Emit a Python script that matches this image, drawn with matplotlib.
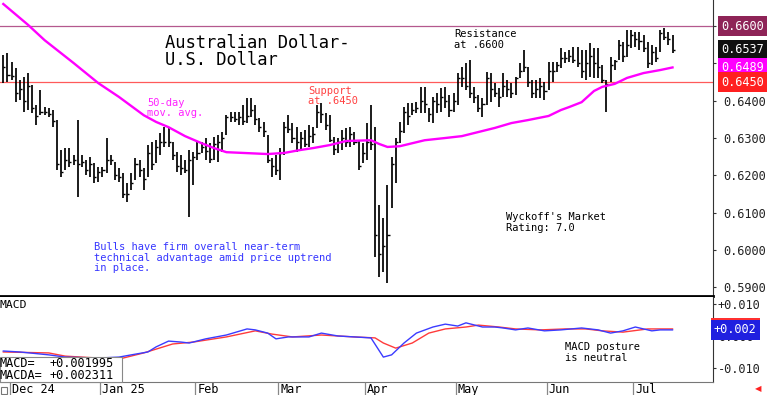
import matplotlib
matplotlib.use("Agg")
import matplotlib.pyplot as plt
from matplotlib.patches import Rectangle

# ---------------- data ----------------
highs = [
    0.6522, 0.6528, 0.6504, 0.6487, 0.6455, 0.6463, 0.6474, 0.6442, 0.6388, 0.6428,
    0.6383, 0.6380, 0.6375, 0.6348, 0.6268, 0.6273, 0.6273, 0.6254, 0.6348, 0.6254,
    0.6241, 0.6249, 0.6233, 0.6222, 0.6222, 0.6300, 0.6254, 0.6236, 0.6219, 0.6206,
    0.6179, 0.6206, 0.6246, 0.6241, 0.6219, 0.6281, 0.6289, 0.6294, 0.6313, 0.6329,
    0.6327, 0.6289, 0.6262, 0.6254, 0.6241, 0.6268, 0.6262, 0.6289, 0.6289, 0.6300,
    0.6286, 0.6303, 0.6308, 0.6316, 0.6361, 0.6370, 0.6370, 0.6370, 0.6388, 0.6407,
    0.6407, 0.6388, 0.6353, 0.6343, 0.6308, 0.6246, 0.6254, 0.6273, 0.6343, 0.6361,
    0.6340, 0.6329, 0.6316, 0.6321, 0.6335, 0.6329, 0.6388, 0.6394, 0.6367, 0.6361,
    0.6303, 0.6300, 0.6321, 0.6327, 0.6329, 0.6316, 0.6294, 0.6286, 0.6340, 0.6388,
    0.6329, 0.6120, 0.6085, 0.6174, 0.6249, 0.6300, 0.6343, 0.6383, 0.6394, 0.6394,
    0.6396, 0.6437, 0.6437, 0.6380, 0.6410, 0.6420, 0.6434, 0.6437, 0.6415, 0.6420,
    0.6474, 0.6490, 0.6501, 0.6509, 0.6437, 0.6415, 0.6407, 0.6477, 0.6474, 0.6447,
    0.6434, 0.6474, 0.6455, 0.6447, 0.6463, 0.6501, 0.6536, 0.6490, 0.6455, 0.6455,
    0.6461, 0.6450, 0.6504, 0.6504, 0.6504, 0.6541, 0.6530, 0.6536, 0.6544, 0.6544,
    0.6536, 0.6536, 0.6554, 0.6541, 0.6541, 0.6495, 0.6455, 0.6517, 0.6509, 0.6562,
    0.6557, 0.6589, 0.6589, 0.6584, 0.6584, 0.6576, 0.6557, 0.6549, 0.6544, 0.6589,
    0.6595, 0.6584, 0.6576,
]
lows = [
    0.6447, 0.6450, 0.6455, 0.6396, 0.6402, 0.6370, 0.6375, 0.6367, 0.6335, 0.6361,
    0.6361, 0.6356, 0.6329, 0.6214, 0.6195, 0.6214, 0.6222, 0.6227, 0.6142, 0.6222,
    0.6201, 0.6195, 0.6179, 0.6182, 0.6195, 0.6206, 0.6227, 0.6187, 0.6182, 0.6139,
    0.6128, 0.6160, 0.6187, 0.6195, 0.6160, 0.6195, 0.6214, 0.6233, 0.6254, 0.6276,
    0.6276, 0.6241, 0.6209, 0.6201, 0.6206, 0.6088, 0.6174, 0.6241, 0.6260, 0.6241,
    0.6233, 0.6241, 0.6236, 0.6262, 0.6308, 0.6343, 0.6343, 0.6335, 0.6335, 0.6340,
    0.6356, 0.6335, 0.6316, 0.6303, 0.6233, 0.6195, 0.6201, 0.6187, 0.6254, 0.6313,
    0.6286, 0.6262, 0.6268, 0.6276, 0.6276, 0.6286, 0.6327, 0.6340, 0.6321, 0.6289,
    0.6254, 0.6260, 0.6268, 0.6276, 0.6276, 0.6281, 0.6214, 0.6233, 0.6241, 0.6268,
    0.5981, 0.5927, 0.5941, 0.5911, 0.6112, 0.6179, 0.6286, 0.6313, 0.6335, 0.6361,
    0.6367, 0.6367, 0.6367, 0.6343, 0.6340, 0.6367, 0.6370, 0.6380, 0.6356, 0.6370,
    0.6388, 0.6437, 0.6428, 0.6407, 0.6394, 0.6370, 0.6356, 0.6388, 0.6396, 0.6410,
    0.6383, 0.6410, 0.6410, 0.6407, 0.6415, 0.6461, 0.6477, 0.6437, 0.6407, 0.6407,
    0.6407, 0.6402, 0.6428, 0.6450, 0.6477, 0.6487, 0.6501, 0.6504, 0.6501, 0.6490,
    0.6461, 0.6455, 0.6463, 0.6461, 0.6461, 0.6447, 0.6370, 0.6450, 0.6482, 0.6509,
    0.6504, 0.6517, 0.6541, 0.6544, 0.6536, 0.6530, 0.6487, 0.6495, 0.6504, 0.6530,
    0.6562, 0.6549, 0.6528,
]
closes = [
    0.6490, 0.6470, 0.6465, 0.6420, 0.6430, 0.6400, 0.6440, 0.6380, 0.6360, 0.6370,
    0.6370, 0.6365, 0.6345, 0.6230, 0.6210, 0.6240, 0.6235, 0.6240, 0.6230, 0.6235,
    0.6215, 0.6230, 0.6195, 0.6210, 0.6215, 0.6240, 0.6240, 0.6200, 0.6195, 0.6150,
    0.6150, 0.6180, 0.6230, 0.6215, 0.6190, 0.6260, 0.6230, 0.6275, 0.6290, 0.6290,
    0.6290, 0.6255, 0.6225, 0.6220, 0.6215, 0.6240, 0.6250, 0.6260, 0.6275, 0.6265,
    0.6245, 0.6285, 0.6290, 0.6300, 0.6355, 0.6355, 0.6350, 0.6355, 0.6345, 0.6360,
    0.6375, 0.6350, 0.6330, 0.6320, 0.6240, 0.6225, 0.6215, 0.6260, 0.6330, 0.6325,
    0.6300, 0.6290, 0.6300, 0.6285, 0.6305, 0.6310, 0.6370, 0.6365, 0.6335, 0.6295,
    0.6270, 0.6290, 0.6300, 0.6290, 0.6310, 0.6290, 0.6225, 0.6260, 0.6290, 0.6285,
    0.6040, 0.5990, 0.6010, 0.6040, 0.6230, 0.6290, 0.6320, 0.6370, 0.6360, 0.6375,
    0.6380, 0.6400, 0.6390, 0.6365, 0.6400, 0.6390, 0.6410, 0.6400, 0.6375, 0.6400,
    0.6460, 0.6460, 0.6440, 0.6420, 0.6410, 0.6380, 0.6390, 0.6460, 0.6430, 0.6420,
    0.6410, 0.6440, 0.6430, 0.6420, 0.6460, 0.6480, 0.6490, 0.6450, 0.6420, 0.6430,
    0.6440, 0.6425, 0.6480, 0.6480, 0.6495, 0.6515, 0.6515, 0.6520, 0.6510, 0.6500,
    0.6480, 0.6500, 0.6520, 0.6500, 0.6490, 0.6455, 0.6445, 0.6495, 0.6505, 0.6550,
    0.6520, 0.6550, 0.6575, 0.6565, 0.6560, 0.6540, 0.6500, 0.6530, 0.6515, 0.6580,
    0.6570, 0.6565, 0.6537,
]

# 50-day moving average, read at these bar numbers
ma_idx = [0, 6, 10, 17, 23, 28, 34, 37, 40, 44, 48, 51, 54, 58, 64, 68, 72, 75, 79,
          83, 89, 91, 93, 96, 99, 102, 107, 111, 115, 119, 123, 127, 132, 135, 137,
          140, 143, 145, 148, 151, 155, 159, 162]
ma_vals = [0.6659, 0.6603, 0.6562, 0.6501, 0.6447, 0.6410, 0.6361, 0.6343, 0.6329,
           0.6305, 0.6286, 0.6273, 0.6262, 0.6260, 0.6257, 0.6260, 0.6268, 0.6273,
           0.6281, 0.6292, 0.6294, 0.6284, 0.6276, 0.6278, 0.6286, 0.6294, 0.6300,
           0.6305, 0.6316, 0.6327, 0.6340, 0.6348, 0.6359, 0.6375, 0.6383, 0.6396,
           0.6426, 0.6437, 0.6445, 0.6461, 0.6474, 0.6482, 0.6489]

# MACD (blue) and MACD average (red), read at these bar numbers
macd_idx = [0, 4, 11, 15, 23, 28, 31, 35, 37, 40, 43, 45, 49, 54, 59, 61, 64, 66, 69,
            74, 77, 81, 85, 89, 92, 94, 97, 100, 104, 107, 110, 112, 116, 119, 121,
            124, 127, 131, 135, 140, 144, 147, 150, 153, 157, 159, 162]
macd_vals = [-0.0046, -0.0049, -0.0058, -0.0065, -0.0068, -0.0065, -0.0058, -0.0049,
             -0.0033, -0.0015, -0.0018, -0.0021, -0.0008, 0.0004, 0.0023, 0.0020,
             0.0010, -0.0008, -0.0002, -0.0002, 0.0010, 0.0001, -0.0002, -0.0005,
             -0.0065, -0.0058, -0.0021, 0.0010, 0.0029, 0.0038, 0.0032, 0.0042,
             0.0029, 0.0029, 0.0026, 0.0020, 0.0026, 0.0017, 0.0020, 0.0026, 0.0020,
             0.0010, 0.0017, 0.0029, 0.0017, 0.0020, 0.0020]
sig_idx = [0, 11, 15, 23, 29, 34, 41, 46, 54, 61, 65, 70, 77, 85, 90, 92, 95, 99,
           103, 107, 112, 115, 120, 124, 130, 136, 141, 145, 150, 156, 162]
sig_vals = [-0.0049, -0.0052, -0.0062, -0.0068, -0.0068, -0.0052, -0.0024, -0.0018,
            -0.0002, 0.0017, 0.0007, -0.0002, 0.0004, -0.0002, -0.0005, -0.0021,
            -0.0037, -0.0021, 0.0010, 0.0023, 0.0029, 0.0035, 0.0029, 0.0023, 0.0020,
            0.0023, 0.0023, 0.0017, 0.0013, 0.0023, 0.0023]

month_labels = ["Dec 24", "Jan 25", "Feb", "Mar", "Apr", "May", "Jun", "Jul"]
month_start = [2, 24, 47, 67, 88, 110, 132, 153]
price_ticks = [0.66, 0.65, 0.64, 0.63, 0.62, 0.61, 0.60, 0.59]
macd_ticks = [0.010, 0.0, -0.010]
macd_tick_labels = ["+0.010", "0.000", "-0.010"]
resistance = 0.6600
support = 0.6450
last_close = 0.6537
last_ma = 0.6489
macd_last = 0.001995
macda_last = 0.002311

# ---------------- figure ----------------
MONO = "DejaVu Sans Mono"
W, H = 768, 395
fig = plt.figure(figsize=(W / 100, H / 100), dpi=100)
fig.patch.set_facecolor("white")


def rect(x0, y0, x1, y1):
    return [x0 / W, 1 - y1 / H, (x1 - x0) / W, (y1 - y0) / H]


def ftext(x, y, s, size=7.5, color="black", **kw):
    return fig.text(x / W, 1 - y / H, s, va="baseline", ha="left",
                    family=MONO, fontsize=size, color=color, **kw)


XLIM = (-0.8, 171.8)
n = len(highs)
xs = list(range(n))

# ---- main price panel ----
ax = fig.add_axes(rect(0, 0, 713, 296))
ax.set_xlim(*XLIM)
ax.set_ylim(0.58767, 0.66697)
ax.axhline(resistance, color="#b4588e", lw=0.9, zorder=1)
ax.axhline(support, color="#ff5a5a", lw=0.9, zorder=1)
ax.vlines(xs, lows, highs, color="black", lw=1.25, zorder=3)
ax.hlines(closes, [x for x in xs], [x + 0.5 for x in xs], color="black", lw=1.0, zorder=3)
ax.plot(ma_idx, ma_vals, color="#ff00ff", lw=1.7, zorder=4)

for s in ["left", "top"]:
    ax.spines[s].set_visible(False)
ax.spines["right"].set_color("#333333")
ax.spines["right"].set_linewidth(0.8)
ax.spines["bottom"].set_color("black")
ax.spines["bottom"].set_linewidth(2.0)
ax.set_xticks([])
ax.yaxis.tick_right()
ax.set_yticks(price_ticks)
ax.set_yticklabels(["" if v == resistance else f"{v:.4f}" for v in price_ticks],
                   family=MONO)
ax.tick_params(axis="y", direction="out", length=2, pad=5.5, labelsize=8.6,
               labelcolor="#222222", color="#333333")

ytr = ax.get_yaxis_transform()
box_x = 1 + 8 / 713
for val, fc in [(resistance, "#8e2457"), (last_close, "#101010"),
                (last_ma, "#ff00ff"), (support, "#ff2020")]:
    ax.text(box_x, val, f"{val:.4f}", transform=ytr, va="center", ha="left",
            family=MONO, fontsize=8.6, color="white", clip_on=False, zorder=6,
            bbox=dict(boxstyle="square,pad=0.28", fc=fc, ec="none"))

# annotations on price panel
ftext(165, 48, "Australian Dollar-", size=12.3)
ftext(165, 65, "U.S. Dollar", size=12.3)
ftext(147, 106, "50-day", color="#ff22ff")
ftext(147, 116, "mov. avg.", color="#ff22ff")
ftext(308, 94, "Support", color="#ff4040")
ftext(308, 104, "at .6450", color="#ff4040")
ftext(454, 37, "Resistance")
ftext(454, 48, "at .6600")
ftext(506, 220, "Wyckoff's Market")
ftext(506, 231, "Rating: 7.0")
ftext(94, 250, "Bulls have firm overall near-term", color="#3535ff")
ftext(94, 261, "technical advantage amid price uptrend", color="#3535ff")
ftext(94, 271, "in place.", color="#3535ff")

# ---- MACD panel ----
axm = fig.add_axes(rect(0, 297, 713, 381.7))
axm.set_xlim(*XLIM)
axm.set_ylim(-0.01419, 0.01228)
axm.plot(sig_idx, sig_vals, color="#ff3b3b", lw=1.0, zorder=3)
axm.plot(macd_idx, macd_vals, color="#3b3bff", lw=1.0, zorder=4)
for s in ["left", "top"]:
    axm.spines[s].set_visible(False)
axm.spines["right"].set_color("#333333")
axm.spines["right"].set_linewidth(0.8)
axm.spines["bottom"].set_color("#777777")
axm.spines["bottom"].set_linewidth(0.8)
axm.set_xticks([])
axm.yaxis.tick_right()
axm.set_yticks(macd_ticks)
axm.set_yticklabels(macd_tick_labels, family=MONO)
axm.tick_params(axis="y", direction="out", length=2, pad=1.5, labelsize=8.6,
                labelcolor="#222222", color="#333333")
ytm = axm.get_yaxis_transform()
bx = 1 + 1 / 713
axm.text(bx, macda_last + 0.0004, f"+{macda_last:.3f}", transform=ytm, va="center",
         ha="left", family=MONO, fontsize=8.6, color="white", clip_on=False, zorder=6,
         bbox=dict(boxstyle="square,pad=0.28", fc="#ff3030", ec="none"))
axm.text(bx, macd_last, f"+{macd_last:.3f}", transform=ytm, va="center",
         ha="left", family=MONO, fontsize=8.6, color="white", clip_on=False, zorder=7,
         bbox=dict(boxstyle="square,pad=0.28", fc="#2020e0", ec="none"))

ftext(0, 308, "MACD", size=8.2)
ftext(565, 350, "MACD posture")
ftext(565, 361, "is neutral")

# legend box of MACD values
fig.patches.append(Rectangle((0, 1 - 382 / H), 122 / W, 25 / H,
                             transform=fig.transFigure, fc="white",
                             ec="#888888", lw=0.8, zorder=5))
ftext(-1, 367, "MACD=", size=8.6, zorder=6)
ftext(49, 367, f"+{macd_last:.6f}", size=8.6, zorder=6)
ftext(-1, 379, "MACDA=", size=8.6, zorder=6)
ftext(49, 379, f"+{macda_last:.6f}", size=8.6, zorder=6)

# ---- month label row ----
axl = fig.add_axes(rect(0, 382, 768, 395))
axl.set_xlim(XLIM[0], XLIM[0] + (XLIM[1] - XLIM[0]) * 768 / 713)
axl.set_ylim(0, 1)
axl.axis("off")
for lab, st in zip(month_labels, month_start):
    axl.vlines(st - 0.5, 0, 1, color="#888888", lw=0.9)
    axl.text(st, 0.12, lab, family=MONO, fontsize=8.6, color="black",
             ha="left", va="baseline")

# small box at lower left and red arrow at lower right
fig.patches.append(Rectangle((1 / W, 1 - 394 / H), 6 / W, 7 / H,
                             transform=fig.transFigure, fc="white",
                             ec="#777777", lw=0.8))
fig.text(758 / W, 1 - 389 / H, "\u25c0", color="#ff2020", fontsize=6,
         ha="center", va="center", family="DejaVu Sans")

fig.savefig("out.png", dpi=100)
